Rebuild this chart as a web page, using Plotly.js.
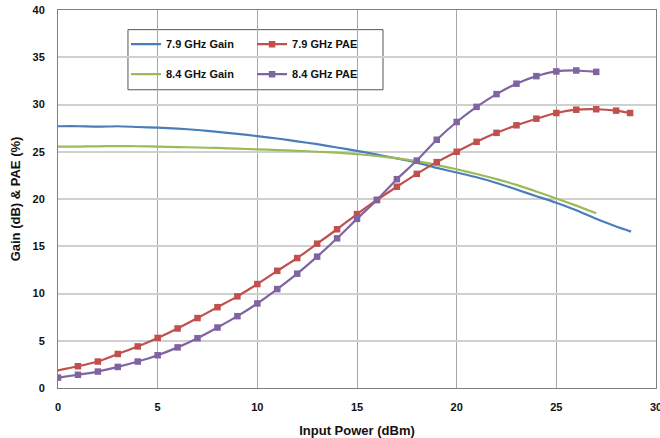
<!DOCTYPE html>
<html>
<head>
<meta charset="utf-8">
<script src="https://cdn.plot.ly/plotly-3.0.1.min.js"></script>
<style>html,body{margin:0;padding:0;background:#fff;}#chart{width:660px;height:438px;}</style>
</head>
<body>
<div id="chart"></div>
<script>
// Input power (dBm)
const gain79X = [0,1,2,3,4,5,6,7,8,9,10,11,12,13,14,15,16,17,18,19,20,21,22,23,24,25,26,27,28,28.75];
const gain79Y = [27.7,27.7,27.65,27.7,27.62,27.55,27.45,27.3,27.1,26.9,26.65,26.4,26.1,25.8,25.45,25.1,24.7,24.3,23.85,23.3,22.8,22.3,21.7,21.0,20.3,19.6,18.8,17.9,17.1,16.55];

const pae79X = [-0.3,1,2,3,4,5,6,7,8,9,10,11,12,13,14,15,16,17,18,19,20,21,22,23,24,25,26,27,28,28.7];
const pae79Y = [1.75,2.3,2.8,3.6,4.4,5.3,6.3,7.4,8.55,9.7,11.0,12.4,13.75,15.27,16.8,18.4,19.9,21.3,22.66,23.9,25.0,26.05,27.0,27.8,28.5,29.1,29.45,29.5,29.35,29.1];

const gain84X = [0,1,2,3,4,5,6,7,8,9,10,11,12,13,14,15,16,17,18,19,20,21,22,23,24,25,26,27];
const gain84Y = [25.55,25.55,25.57,25.6,25.58,25.55,25.5,25.45,25.4,25.33,25.25,25.18,25.1,25.0,24.9,24.75,24.55,24.3,24.0,23.6,23.15,22.65,22.1,21.5,20.8,20.05,19.3,18.5];

const pae84X = [0,1,2,3,4,5,6,7,8,9,10,11,12,13,14,15,16,17,18,19,20,21,22,23,24,25,26,27];
const pae84Y = [1.1,1.4,1.74,2.23,2.8,3.47,4.3,5.27,6.4,7.6,8.95,10.47,12.1,13.9,15.84,17.9,19.9,22.1,24.07,26.27,28.15,29.75,31.1,32.2,33.0,33.5,33.6,33.45];

const names = ['7.9 GHz Gain','7.9 GHz PAE','8.4 GHz Gain','8.4 GHz PAE'];
const xTicks = [0,5,10,15,20,25,30];
const yTicks = [0,5,10,15,20,25,30,35,40];

const C_BLUE = '#4a7ebb', C_RED = '#c0504d', C_GREEN = '#9bbb59', C_PURPLE = '#8064a2';
const legFont = {family:'Arial, Liberation Sans, sans-serif', size:11, color:'#111', weight:'bold'};

const traces = [
  {x:gain79X, y:gain79Y, name:names[0], mode:'lines', line:{color:C_BLUE, width:2.2, shape:'spline', smoothing:0.6}, legend:'legend', legendgroup:'a'},
  {x:gain84X, y:gain84Y, name:names[2], mode:'lines', line:{color:C_GREEN, width:2.2, shape:'spline', smoothing:0.6}, legend:'legend', legendgroup:'b'},
  {x:pae79X, y:pae79Y, name:names[1], mode:'lines+markers', line:{color:C_RED, width:2.2, shape:'spline', smoothing:0.6}, marker:{symbol:'square', size:6.5, color:C_RED}, cliponaxis:true, legend:'legend2', legendgroup:'c'},
  {x:pae84X, y:pae84Y, name:names[3], mode:'lines+markers', line:{color:C_PURPLE, width:2.2, shape:'spline', smoothing:0.6}, marker:{symbol:'square', size:6.5, color:C_PURPLE}, cliponaxis:true, legend:'legend2', legendgroup:'d'}
];

const layout = {
  width:660, height:438,
  margin:{l:58, r:4, t:10, b:50},
  paper_bgcolor:'#fff', plot_bgcolor:'#fff',
  font:{family:'Arial, Liberation Sans, sans-serif', size:11, color:'#111'},
  xaxis:{
    range:[0,30], tickvals:xTicks, ticktext:xTicks.map(String),
    showgrid:true, gridcolor:'#a6a6a6', gridwidth:1,
    showline:true, linecolor:'#808080', linewidth:1, mirror:true,
    zeroline:false, ticks:'', ticklabelstandoff:9, ticklabeloverflow:'allow',
    automargin:'bottom',
    tickfont:{size:11, weight:'bold', color:'#111'},
    title:{text:'Input Power (dBm)', font:{size:13, weight:'bold', color:'#111'}, standoff:13}
  },
  yaxis:{
    range:[0,40], tickvals:yTicks, ticktext:yTicks.map(String),
    showgrid:true, gridcolor:'#d0d0d0', gridwidth:2,
    showline:true, linecolor:'#808080', linewidth:1, mirror:true,
    zeroline:false, ticks:'', ticklabelstandoff:10,
    automargin:'left',
    tickfont:{size:11, weight:'bold', color:'#111'},
    title:{text:'Gain (dB) &amp; PAE (%)', font:{size:13, weight:'bold', color:'#111'}, standoff:8}
  },
  showlegend:true,
  legend:{x:0.1137, xanchor:'left', y:0.948, yanchor:'top', bgcolor:'rgba(0,0,0,0)', borderwidth:0, font:legFont, tracegroupgap:11},
  legend2:{x:0.3245, xanchor:'left', y:0.948, yanchor:'top', bgcolor:'rgba(0,0,0,0)', borderwidth:0, font:legFont, tracegroupgap:11},
  shapes:[{type:'rect', xref:'paper', yref:'paper', x0:0.117, x1:0.5435, y0:0.789, y1:0.948, line:{color:'#555', width:1}, fillcolor:'#fff', layer:'below'}]
};

Plotly.newPlot('chart', traces, layout, {displayModeBar:false, staticPlot:true});
</script>
</body>
</html>
